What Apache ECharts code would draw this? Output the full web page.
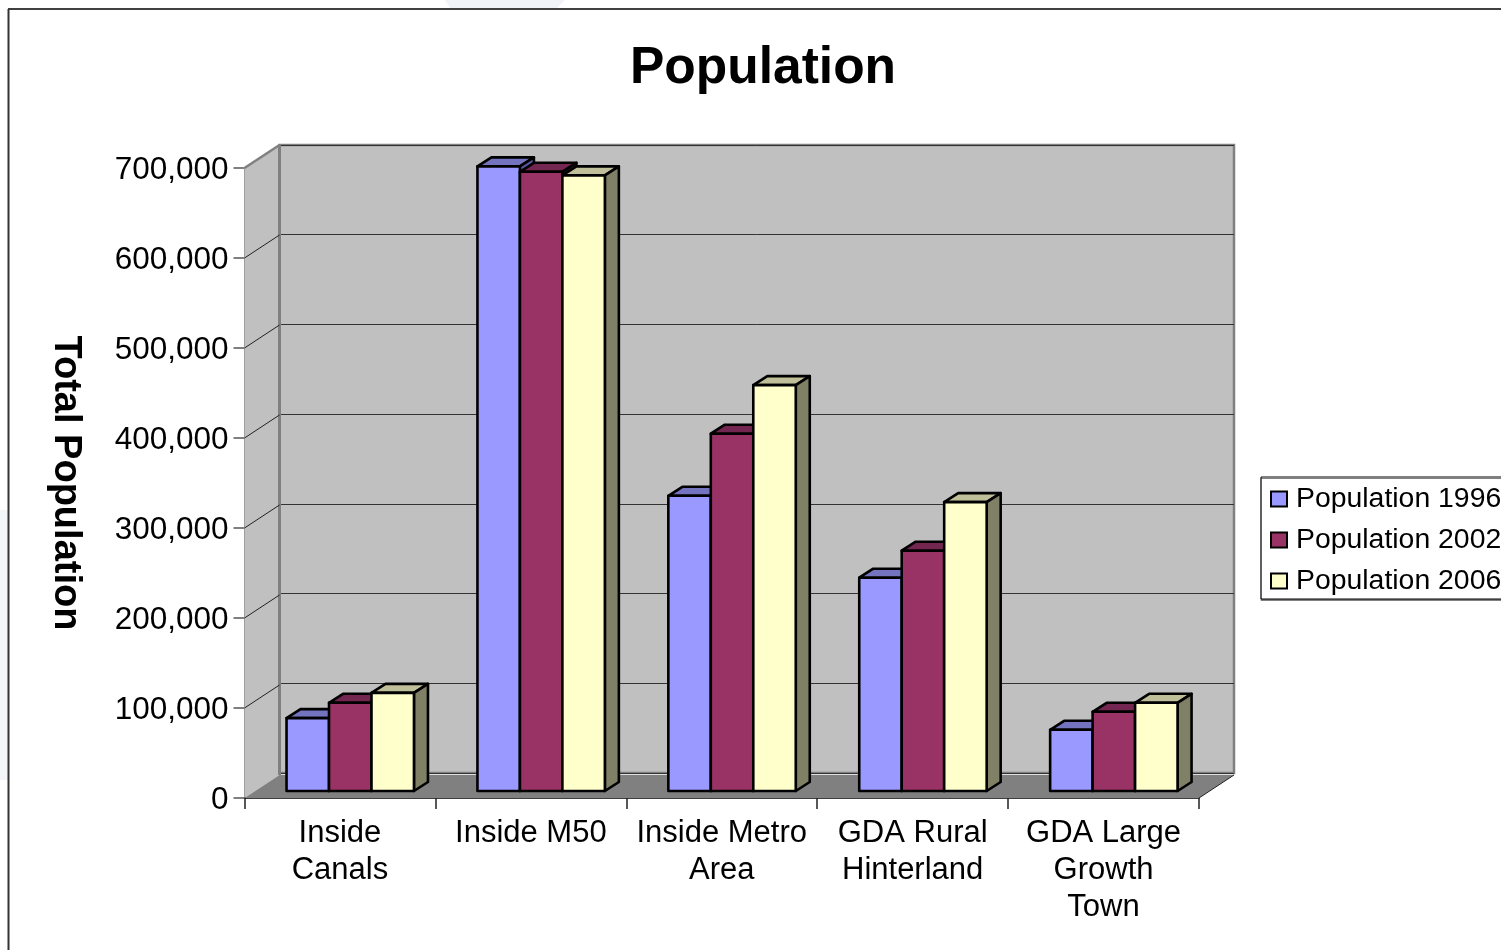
<!DOCTYPE html>
<html>
<head>
<meta charset="utf-8">
<style>html,body{margin:0;padding:0;background:#fff}#chart{width:1501px;height:950px}</style>
<script src="https://cdn.jsdelivr.net/npm/echarts@6/dist/echarts.min.js"></script>
</head>
<body>
<div id="chart"></div>
<script>
// Population by area, three census years
const categories = ['Inside\nCanals', 'Inside M50', 'Inside Metro\nArea', 'GDA Rural\nHinterland', 'GDA Large\nGrowth\nTown'];
const population1996 = [81000, 694000, 328000, 237000, 68000];
const population2002 = [98000, 688000, 397000, 267000, 88000];
const population2006 = [109000, 684000, 451000, 321000, 98000];
const yTicks = [0, 100000, 200000, 300000, 400000, 500000, 600000, 700000];
const seriesNames = ['Population 1996', 'Population 2002', 'Population 2006'];

const FONT = '"Liberation Sans", Arial, sans-serif';
// Depth of the box and of each column, as a screen offset
const WALL_DX = 35, WALL_DY = 23;
const BAR_DX = 14, BAR_DY = 9;
const BAR_INSET_X = 10.6, BAR_INSET_Y = 7;
const BAR_RATIO = 0.2225;
const PALETTE = [
  { front: '#9999ff', top: '#7373bf', side: '#5a5aa8' },
  { front: '#993366', top: '#732650', side: '#4d1a33' },
  { front: '#ffffcc', top: '#bfbf99', side: '#808066' }
];

// Side wall and floor of the box, with the receding gridlines on the wall
function renderShell(params, api) {
  const cs = params.coordSys;
  const x0 = cs.x, x1 = cs.x + cs.width;
  const base = api.coord([0, 0])[1];
  const peak = api.coord([0, 700000])[1];
  const children = [
    { type: 'polygon', shape: { points: [[x0, peak], [x0 + WALL_DX, peak - WALL_DY], [x0 + WALL_DX, base - WALL_DY], [x0, base]] },
      style: { fill: '#c0c0c0' } },
    { type: 'polygon', shape: { points: [[x0, base], [x0 + WALL_DX, base - WALL_DY], [x1 + WALL_DX, base - WALL_DY], [x1, base]] },
      style: { fill: '#808080' } },
    { type: 'line', shape: { x1: x0, y1: peak, x2: x0 + WALL_DX, y2: peak - WALL_DY },
      style: { stroke: '#808080', lineWidth: 2.5 } },
    { type: 'line', shape: { x1: x0 + WALL_DX, y1: peak - WALL_DY, x2: x0 + WALL_DX, y2: base - WALL_DY },
      style: { stroke: '#808080', lineWidth: 3 } },
    { type: 'line', shape: { x1: x1 + WALL_DX, y1: base - WALL_DY, x2: x1, y2: base },
      style: { stroke: '#222', lineWidth: 1 } }
  ];
  yTicks.slice(1, -1).forEach(function (t) {
    const y = api.coord([0, t])[1];
    children.push({ type: 'line', shape: { x1: x0, y1: y, x2: x0 + WALL_DX, y2: y - WALL_DY },
      style: { stroke: '#222', lineWidth: 1 } });
  });
  return { type: 'group', children: children };
}

// One extruded column: front face, top face, right face
function makeColumnRenderer(seriesIndex) {
  return function (params, api) {
    const band = api.size([1, 0])[0];
    const w = band * BAR_RATIO;
    const c = api.coord([api.value(0), api.value(1)]);
    const b = api.coord([api.value(0), 0]);
    const xl = c[0] - 1.5 * w + seriesIndex * w + BAR_INSET_X - 0.3;
    const xr = xl + w;
    const yt = c[1] - BAR_INSET_Y;
    const yb = b[1] - BAR_INSET_Y;
    const colors = PALETTE[seriesIndex];
    const edge = { stroke: '#000', lineWidth: 2.6, lineJoin: 'round' };
    return {
      type: 'group',
      children: [
        { type: 'polygon', shape: { points: [[xl, yt], [xl + BAR_DX, yt - BAR_DY], [xr + BAR_DX, yt - BAR_DY], [xr, yt]] },
          style: Object.assign({ fill: colors.top }, edge) },
        { type: 'polygon', shape: { points: [[xr, yt], [xr + BAR_DX, yt - BAR_DY], [xr + BAR_DX, yb - BAR_DY], [xr, yb]] },
          style: Object.assign({ fill: colors.side }, edge) },
        { type: 'rect', shape: { x: xl, y: yt, width: w, height: yb - yt },
          style: Object.assign({ fill: colors.front }, edge) }
      ]
    };
  };
}

function columnSeries(name, values, i) {
  return {
    type: 'custom',
    name: name,
    xAxisIndex: 0,
    yAxisIndex: 0,
    coordinateSystem: 'cartesian2d',
    renderItem: makeColumnRenderer(i),
    encode: { x: 0, y: 1 },
    itemStyle: { color: PALETTE[i].front, borderColor: '#000', borderWidth: 2 },
    clip: false,
    z: 5 + i,
    data: values.map(function (v, k) { return [k, v]; })
  };
}

const chart = echarts.init(document.getElementById('chart'), null, { renderer: 'canvas' });
chart.setOption({
  backgroundColor: '#ffffff',
  animation: false,
  title: {
    text: 'Population',
    left: 625,
    top: 38,
    textStyle: { fontFamily: FONT, fontWeight: 'bold', fontSize: 51.5, color: '#000' }
  },
  legend: {
    left: 1261,
    top: 477,
    orient: 'vertical',
    icon: 'rect',
    itemWidth: 16,
    itemHeight: 15,
    itemGap: 13,
    padding: [8, 30, 4, 9],
    backgroundColor: '#fff',
    borderColor: '#000',
    borderWidth: 1,
    shadowColor: '#808080',
    shadowBlur: 0,
    shadowOffsetY: 1.5,
    textStyle: { fontFamily: FONT, fontSize: 28.4, color: '#000', padding: [0, 0, 4, 4] },
    data: seriesNames
  },
  grid: [
    { left: 244.5, top: 168, width: 954.5, height: 630, containLabel: false },
    { left: 279.5, top: 145, width: 954.5, height: 628, show: true, backgroundColor: '#c0c0c0', borderColor: '#808080', borderWidth: 2.5 }
  ],
  xAxis: [
    {
      type: 'category', gridIndex: 0, data: categories,
      axisLine: { show: true, lineStyle: { color: '#000', width: 1.5 } },
      axisTick: { show: true, length: 11, alignWithLabel: false, lineStyle: { color: '#222', width: 1.5 } },
      axisLabel: { fontFamily: FONT, fontSize: 31, color: '#000', lineHeight: 37, margin: 17, interval: 0 }
    },
    { type: 'category', gridIndex: 1, data: categories, show: false }
  ],
  yAxis: [
    {
      type: 'value', gridIndex: 0, min: 0, max: 700000, interval: 100000,
      name: 'Total Population',
      nameLocation: 'middle',
      nameRotate: -90,
      nameGap: 160,
      nameTextStyle: { fontFamily: FONT, fontWeight: 'bold', fontSize: 38, color: '#000' },
      axisLine: { show: true, lineStyle: { color: '#555', width: 1.5 } },
      axisTick: { show: true, length: 11, lineStyle: { color: '#555', width: 1.5 } },
      axisLabel: { margin: 16,
        formatter: function (v) { return '{tick|' + v.toLocaleString('en-US') + '}'; },
        rich: { tick: { fontFamily: FONT, fontSize: 31.5, color: '#000', padding: [5, 0, 0, 0] } } },
      splitLine: { show: false }
    },
    {
      type: 'value', gridIndex: 1, min: 0, max: 700000, interval: 100000,
      axisLine: { show: false }, axisTick: { show: false }, axisLabel: { show: false },
      splitLine: { show: true, lineStyle: { color: '#333', width: 1 } }
    }
  ],
  graphic: [
    // Sheet frame and the faint slide artwork behind it
    { type: 'polygon', z: -10, shape: { points: [[445, 0], [565, 0], [557, 8], [450, 8]] }, style: { fill: '#f0f3f8' } },
    { type: 'rect', z: -10, shape: { x: 0, y: 510, width: 8, height: 270 }, style: { fill: '#f3f5f9' } },
    { type: 'line', z: 20, shape: { x1: 8, y1: 9, x2: 1501, y2: 9 }, style: { stroke: '#000', lineWidth: 1.5 } },
    { type: 'line', z: 20, shape: { x1: 8.5, y1: 9, x2: 8.5, y2: 950 }, style: { stroke: '#333', lineWidth: 2 } }
  ],
  series: [
    {
      type: 'custom',
      coordinateSystem: 'cartesian2d',
      xAxisIndex: 0, yAxisIndex: 0,
      renderItem: renderShell,
      encode: { x: 0, y: 1 },
      silent: true,
      clip: false,
      z: 1,
      data: [[0, 0]]
    },
    columnSeries(seriesNames[0], population1996, 0),
    columnSeries(seriesNames[1], population2002, 1),
    columnSeries(seriesNames[2], population2006, 2)
  ]
});
</script>
</body>
</html>
